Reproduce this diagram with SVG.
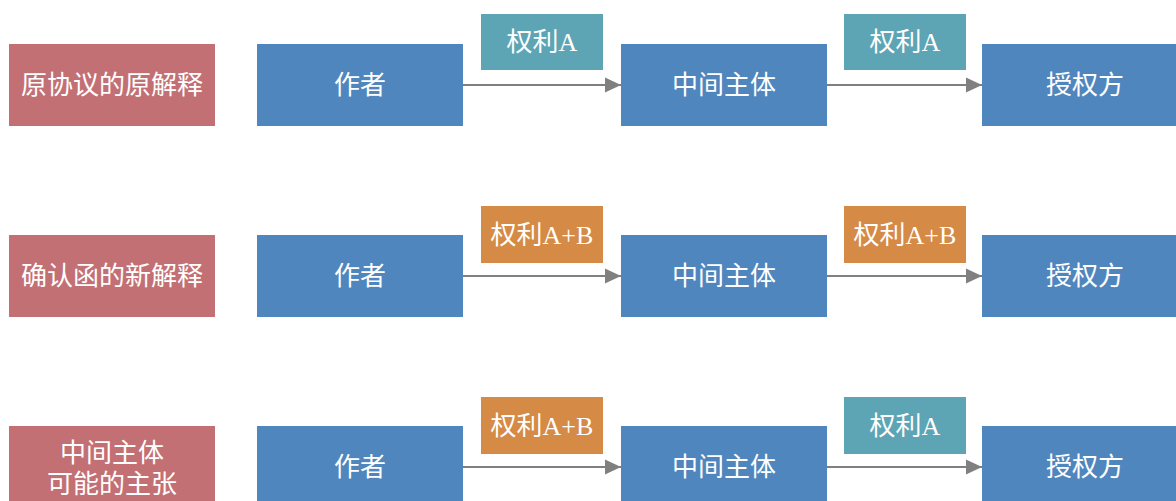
<svg xmlns="http://www.w3.org/2000/svg" width="1176" height="501" viewBox="0 0 1176 501">
<defs>
<style>
.red{fill:#C37074}
.blue{fill:#5086BE}
.teal{fill:#5DA5B5}
.orange{fill:#D58A45}
text{font-family:"Liberation Serif","Noto Sans CJK SC",serif;font-size:26px;fill:#FFFFFF;text-anchor:middle;dominant-baseline:central}
.conn{stroke:#808080;stroke-width:2;fill:none;marker-end:url(#arr)}
</style>
<marker id="arr" markerUnits="userSpaceOnUse" markerWidth="16" markerHeight="16" viewBox="0 0 16 16" refX="16" refY="8" orient="auto">
<path d="M0,0.5 L16,8 L0,15.5 Z" fill="#808080"/>
</marker>
</defs>
<rect width="1176" height="501" fill="#FFFFFF"/>
<g id="connectors">
<path class="conn" d="M463,85 H621"/>
<path class="conn" d="M827,85 H982"/>
<path class="conn" d="M463,276 H621"/>
<path class="conn" d="M827,276 H982"/>
<path class="conn" d="M463,467 H621"/>
<path class="conn" d="M827,467 H982"/>
</g>
<g id="row1-title"><rect class="red" x="9" y="44" width="206" height="82"/><text x="112" y="85">原协议的原解释</text></g>
<g id="row1-author"><rect class="blue" x="257" y="44" width="206" height="82"/><text x="360" y="85">作者</text></g>
<g id="row1-middle"><rect class="blue" x="621" y="44" width="206" height="82"/><text x="724" y="85">中间主体</text></g>
<g id="row1-licensee"><rect class="blue" x="982" y="44" width="206" height="82"/><text x="1085" y="85">授权方</text></g>
<g id="row1-label1"><rect class="teal" x="481" y="14" width="122" height="56"/><text x="542" y="42">权利A</text></g>
<g id="row1-label2"><rect class="teal" x="844" y="14" width="122" height="56"/><text x="905" y="42">权利A</text></g>

<g id="row2-title"><rect class="red" x="9" y="235" width="206" height="82"/><text x="112" y="276">确认函的新解释</text></g>
<g id="row2-author"><rect class="blue" x="257" y="235" width="206" height="82"/><text x="360" y="276">作者</text></g>
<g id="row2-middle"><rect class="blue" x="621" y="235" width="206" height="82"/><text x="724" y="276">中间主体</text></g>
<g id="row2-licensee"><rect class="blue" x="982" y="235" width="206" height="82"/><text x="1085" y="276">授权方</text></g>
<g id="row2-label1"><rect class="orange" x="481" y="206" width="122" height="57"/><text x="542" y="235">权利A+B</text></g>
<g id="row2-label2"><rect class="orange" x="844" y="206" width="122" height="57"/><text x="905" y="235">权利A+B</text></g>

<g id="row3-title"><rect class="red" x="9" y="426" width="206" height="82"/><text x="112" y="453">中间主体</text><text x="112" y="484">可能的主张</text></g>
<g id="row3-author"><rect class="blue" x="257" y="426" width="206" height="82"/><text x="360" y="467">作者</text></g>
<g id="row3-middle"><rect class="blue" x="621" y="426" width="206" height="82"/><text x="724" y="467">中间主体</text></g>
<g id="row3-licensee"><rect class="blue" x="982" y="426" width="206" height="82"/><text x="1085" y="467">授权方</text></g>
<g id="row3-label1"><rect class="orange" x="481" y="397" width="122" height="57"/><text x="542" y="426">权利A+B</text></g>
<g id="row3-label2"><rect class="teal" x="844" y="397" width="122" height="57"/><text x="905" y="426">权利A</text></g>
</svg>
